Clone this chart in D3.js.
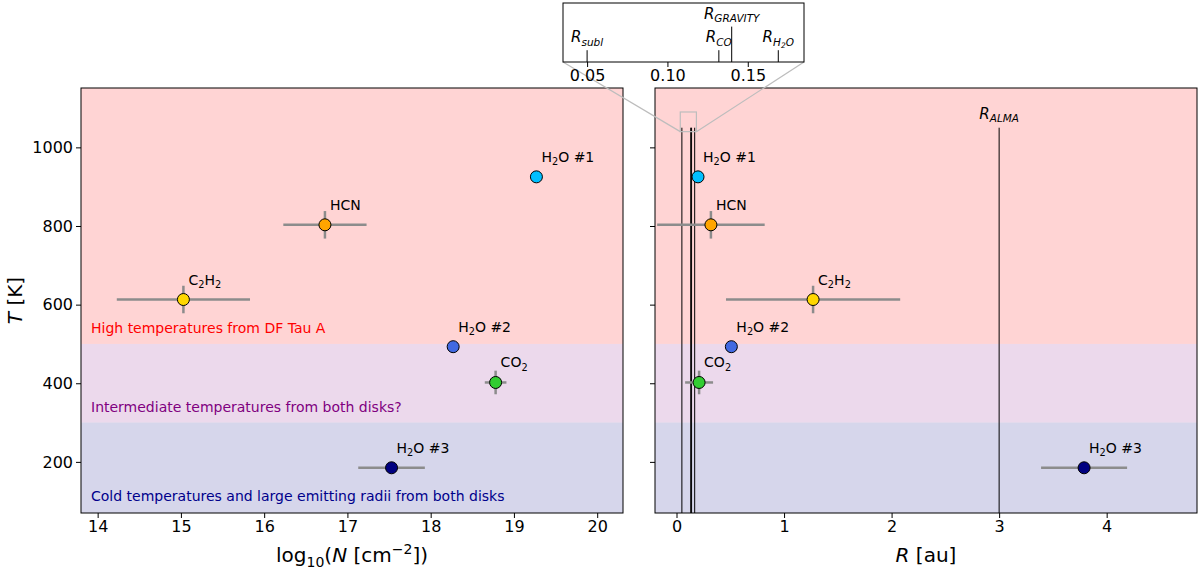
<!DOCTYPE html>
<html>
<head>
<meta charset="utf-8">
<script src="https://cdn.jsdelivr.net/npm/d3@7"></script>
<style>
body { margin: 0; background: #fff; }
svg { font-family: "DejaVu Sans", sans-serif; }
.tick text { font-family: "DejaVu Sans", sans-serif; font-size: 16px; fill: #000; }
</style>
</head>
<body>
<svg width="1200" height="571"></svg>
<script>
// ---- data ----
const species = ['H2O #1', 'HCN', 'C2H2', 'H2O #2', 'CO2', 'H2O #3'];
const speciesColors = ['#00bfff', '#ffa500', '#ffd700', '#4169e1', '#32cd32', '#000080'];
const temperature = [925, 803, 613, 493, 402, 185];
const temperatureErr = [0, 35, 35, 0, 30, 8];
const logN = [19.27, 16.73, 15.03, 18.27, 18.78, 17.53];
const logNErr = [0, 0.5, 0.8, 0, 0.13, 0.4];
const radius = [0.20, 0.32, 1.27, 0.51, 0.21, 3.79];
const radiusErr = [0, 0.5, 0.81, 0, 0.13, 0.4];

// label pieces: [text, level, italic]  level 1 = subscript
const speciesLabels = [
    [['H', 0], ['2', 1], ['O #1', 0]],
    [['HCN', 0]],
    [['C', 0], ['2', 1], ['H', 0], ['2', 1]],
    [['H', 0], ['2', 1], ['O #2', 0]],
    [['CO', 0], ['2', 1]],
    [['H', 0], ['2', 1], ['O #3', 0]]
];

const bandLow = [500, 300, 0];
const bandHigh = [2000, 500, 300];
const bandColors = ['red', 'purple', 'navy'];
const bandOpacity = [0.17, 0.15, 0.16];
const bandTexts = ['High temperatures from DF Tau A', 'Intermediate temperatures from both disks?',
    'Cold temperatures and large emitting radii from both disks'];
const bandTextT = [528, 327, 101];
const bandTextColors = ['red', 'purple', 'darkblue'];

const nTicks = [14, 15, 16, 17, 18, 19, 20];
const rTicks = [0, 1, 2, 3, 4];
const tTicks = [200, 400, 600, 800, 1000];

// characteristic radii (au)
const radiiNames = ['subl', 'CO', 'GRAVITY', 'H2O', 'ALMA'];
const radiiValues = [0.05, 0.132, 0.14, 0.169, 3.0];
const radiiTop = 1050;
const insetTops = [1050, 1050, 1070, 1050];
const insetTicks = [0.05, 0.10, 0.15];

// ---- scales ----
const svg = d3.select('svg');
const xN = d3.scaleLinear().domain([13.8, 20.31]).range([81, 623]);
const xR = d3.scaleLinear().domain([-0.2, 4.84]).range([655, 1197]);
const yT = d3.scaleLinear().domain([70, 1151]).range([513, 88]);
const xIn = d3.scaleLinear().domain([0.035, 0.185]).range([563, 804]);
const yIn = d3.scaleLinear().domain([1040, 1090]).range([62, 3]);

const richText = (parent, x, y, parts, size, anchor) => {
    const t = parent.append('text')
        .attr('x', x).attr('y', y)
        .style('font-size', size + 'px')
        .attr('text-anchor', anchor || 'start');
    let cur = 0;
    parts.forEach(([s, lvl, it]) => {
        const shift = lvl === 1 ? 0.25 * size : lvl === 2 ? 0.4 * size : lvl === -1 ? -0.42 * size : 0;
        const fs = lvl === 0 ? size : lvl === 2 ? size * 0.5 : size * 0.7;
        t.append('tspan')
            .attr('dy', shift - cur)
            .style('font-size', fs + 'px')
            .attr('font-style', it ? 'italic' : null)
            .text(s);
        cur = shift;
    });
    return t;
};

const drawPanel = (id, xs, ticks, showYLabels) => {
    const [x0, x1] = xs.range();
    const [yb, yt] = yT.range();
    const g = svg.append('g');
    svg.append('clipPath').attr('id', id)
        .append('rect').attr('x', x0).attr('y', yt).attr('width', x1 - x0).attr('height', yb - yt);
    const plot = g.append('g').attr('clip-path', `url(#${id})`);

    plot.selectAll('rect.band')
        .data(bandLow)
        .enter()
        .append('rect')
        .attr('class', 'band')
        .attr('x', x0)
        .attr('width', x1 - x0)
        .attr('y', (d, i) => yT(bandHigh[i]))
        .attr('height', (d, i) => yT(bandLow[i]) - yT(bandHigh[i]))
        .attr('fill', (d, i) => bandColors[i])
        .attr('fill-opacity', (d, i) => bandOpacity[i]);

    // axes
    const ax = g.append('g').attr('transform', `translate(0,${yb})`)
        .call(d3.axisBottom(xs).tickValues(ticks).tickFormat(d3.format('d')).tickSize(5).tickSizeOuter(0));
    const ay = g.append('g').attr('transform', `translate(${x0},0)`)
        .call(d3.axisLeft(yT).tickValues(tTicks).tickSize(5).tickSizeOuter(0)
            .tickFormat(showYLabels ? d3.format('d') : () => ''));
    [ax, ay].forEach(a => a.select('.domain').remove());

    return { g, plot };
};

const drawPoints = (panel, xs, xVals, xErrs) => {
    const { plot } = panel;
    const idx = d3.range(species.length);
    const err = plot.append('g').attr('stroke', '#8c8c8c').attr('stroke-width', 2.5);
    idx.filter(i => xErrs[i] > 0).forEach(i => {
        err.append('line')
            .attr('x1', xs(xVals[i] - xErrs[i])).attr('x2', xs(xVals[i] + xErrs[i]))
            .attr('y1', yT(temperature[i])).attr('y2', yT(temperature[i]));
    });
    idx.filter(i => temperatureErr[i] > 0).forEach(i => {
        err.append('line')
            .attr('x1', xs(xVals[i])).attr('x2', xs(xVals[i]))
            .attr('y1', yT(temperature[i] - temperatureErr[i])).attr('y2', yT(temperature[i] + temperatureErr[i]));
    });
    plot.append('g').selectAll('circle')
        .data(idx)
        .enter()
        .append('circle')
        .attr('cx', i => xs(xVals[i]))
        .attr('cy', i => yT(temperature[i]))
        .attr('r', 6)
        .attr('fill', i => speciesColors[i])
        .attr('stroke', '#000')
        .attr('stroke-width', 1);
    idx.forEach(i => {
        richText(plot, xs(xVals[i]) + 5, yT(temperature[i]) - 15, speciesLabels[i], 14);
    });
};

const frame = (xs) => {
    const [x0, x1] = xs.range();
    const [yb, yt] = yT.range();
    svg.append('rect').attr('x', x0).attr('y', yt).attr('width', x1 - x0).attr('height', yb - yt)
        .attr('fill', 'none').attr('stroke', '#000').attr('stroke-width', 1);
};

// ---- left panel ----
const left = drawPanel('clipL', xN, nTicks, true);
bandTexts.forEach((t, i) => {
    left.plot.append('text')
        .attr('x', xN.range()[0] + 10)
        .attr('y', yT(bandTextT[i]))
        .style('font-size', '14px')
        .attr('fill', bandTextColors[i])
        .text(t);
});
drawPoints(left, xN, logN, logNErr);
frame(xN);

// ---- right panel ----
const right = drawPanel('clipR', xR, rTicks, false);
right.plot.append('g').selectAll('line')
    .data(radiiValues)
    .enter()
    .append('line')
    .attr('x1', d => xR(d)).attr('x2', d => xR(d))
    .attr('y1', yT(yT.domain()[0])).attr('y2', yT(radiiTop))
    .attr('stroke', '#000').attr('stroke-width', 1);
richText(right.plot, xR(radiiValues[4]), yT(radiiTop) - 9, [['R', 0, true], ['ALMA', 1, true]], 15, 'middle');
drawPoints(right, xR, radius, radiusErr);
frame(xR);

// ---- axis labels ----
richText(svg, d3.mean(xN.range()), 562,
    [['log', 0], ['10', 1], ['(', 0], ['N', 0, true], [' [cm', 0], ['\u22122', -1], ['])', 0]], 20, 'middle');
richText(svg, d3.mean(xR.range()), 562, [['R', 0, true], [' [au]', 0]], 20, 'middle');
svg.append('text')
    .attr('transform', `translate(22,${d3.mean(yT.range())}) rotate(-90)`)
    .attr('text-anchor', 'middle')
    .style('font-size', '20px')
    .call(t => {
        t.append('tspan').attr('font-style', 'italic').text('T');
        t.append('tspan').text(' [K]');
    });

// ---- inset ----
const zx0 = xR(xIn.domain()[0]), zx1 = xR(xIn.domain()[1]);
const zy0 = yT(yIn.domain()[1]), zy1 = yT(yIn.domain()[0]);
svg.append('rect').attr('x', zx0).attr('y', zy0).attr('width', zx1 - zx0).attr('height', zy1 - zy0)
    .attr('fill', 'none').attr('stroke', '#bdbdbd').attr('stroke-width', 1.2);
svg.append('line').attr('x1', xIn.range()[0]).attr('y1', yIn.range()[0]).attr('x2', zx0).attr('y2', zy1)
    .attr('stroke', '#bdbdbd').attr('stroke-width', 1.2);
svg.append('line').attr('x1', xIn.range()[1]).attr('y1', yIn.range()[0]).attr('x2', zx1).attr('y2', zy1)
    .attr('stroke', '#bdbdbd').attr('stroke-width', 1.2);

const inset = svg.append('g');
inset.append('rect')
    .attr('x', xIn.range()[0]).attr('y', yIn.range()[1])
    .attr('width', xIn.range()[1] - xIn.range()[0]).attr('height', yIn.range()[0] - yIn.range()[1])
    .attr('fill', '#fff');
insetTops.forEach((top, i) => {
    inset.append('line')
        .attr('x1', xIn(radiiValues[i])).attr('x2', xIn(radiiValues[i]))
        .attr('y1', yIn.range()[0]).attr('y2', yIn(top))
        .attr('stroke', '#000').attr('stroke-width', 1);
});
const insetLabelParts = [
    [['R', 0, true], ['subl', 1, true]],
    [['R', 0, true], ['CO', 1, true]],
    [['R', 0, true], ['GRAVITY', 1, true]],
    [['R', 0, true], ['H', 1, true], ['2', 2, true], ['O', 1, true]]
];
insetLabelParts.forEach((parts, i) => {
    richText(inset, xIn(radiiValues[i]), yIn(insetTops[i]) - 8, parts, 15, 'middle');
});
const ia = inset.append('g').attr('transform', `translate(0,${yIn.range()[0]})`)
    .call(d3.axisBottom(xIn).tickValues(insetTicks).tickFormat(d3.format('.2f')).tickSize(5).tickSizeOuter(0));
ia.select('.domain').remove();
inset.append('rect')
    .attr('x', xIn.range()[0]).attr('y', yIn.range()[1])
    .attr('width', xIn.range()[1] - xIn.range()[0]).attr('height', yIn.range()[0] - yIn.range()[1])
    .attr('fill', 'none').attr('stroke', '#000').attr('stroke-width', 1);
</script>
</body>
</html>
